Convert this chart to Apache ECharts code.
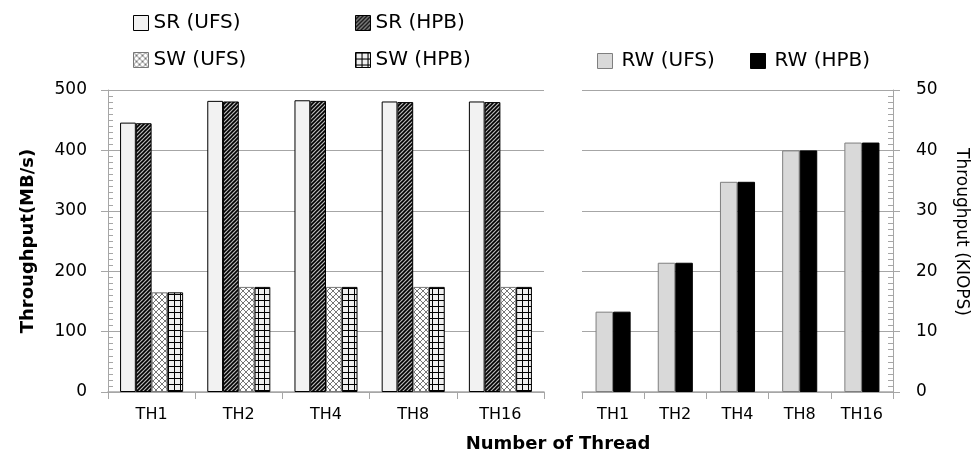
<!DOCTYPE html>
<html>
<head>
<meta charset="utf-8">
<script src="https://cdn.jsdelivr.net/npm/echarts@6/dist/echarts.min.js"></script>
<style>
  html, body { margin: 0; padding: 0; background: #fff; }
  #chart { width: 977px; height: 459px; }
</style>
</head>
<body>
<div id="chart"></div>
<script>
// 数据
const categories = ["TH1", "TH2", "TH4", "TH8", "TH16"];
const srUfs = [446, 482, 483, 481, 481];
const srHpb = [445, 481, 482, 480, 480];
const swUfs = [165, 174, 174, 174, 174];
const swHpb = [165, 174, 174, 174, 174];
const rwUfs = [13.3, 21.4, 34.8, 40.0, 41.3];
const rwHpb = [13.3, 21.4, 34.8, 40.0, 41.3];

const FONT = "DejaVu Sans";
const GREY = "#a6a6a6";

// 填充图案
function makePattern(size, draw) {
  const c = document.createElement("canvas");
  c.width = size;
  c.height = size;
  draw(c.getContext("2d"), size);
  return { image: c, repeat: "repeat" };
}

const hatchPat = makePattern(4, (ctx, s) => {
  ctx.fillStyle = "#b8b8b8";
  ctx.fillRect(0, 0, s, s);
  ctx.strokeStyle = "#000";
  ctx.lineWidth = 1.6;
  ctx.beginPath();
  ctx.moveTo(-1, s + 1); ctx.lineTo(s + 1, -1);
  ctx.moveTo(-1, 1); ctx.lineTo(1, -1);
  ctx.moveTo(s - 1, s + 1); ctx.lineTo(s + 1, s - 1);
  ctx.stroke();
});

const crossPat = makePattern(6, (ctx, s) => {
  ctx.fillStyle = "#fff";
  ctx.fillRect(0, 0, s, s);
  ctx.strokeStyle = "#777";
  ctx.lineWidth = 1;
  ctx.beginPath();
  ctx.moveTo(0, 0); ctx.lineTo(s, s);
  ctx.moveTo(0, s); ctx.lineTo(s, 0);
  ctx.stroke();
});

const gridPat = makePattern(6, (ctx, s) => {
  ctx.fillStyle = "#f0f0f0";
  ctx.fillRect(0, 0, s, s);
  ctx.fillStyle = "#000";
  ctx.fillRect(0, 0, s, 1);
  ctx.fillRect(0, 0, 1, s);
});

const myChart = echarts.init(document.getElementById("chart"));

// 单项图例
function legendAt(name, left, top, textPad) {
  return {
    data: [name],
    left: left,
    top: top,
    padding: 0,
    icon: "rect",
    itemWidth: 15,
    itemHeight: 15,
    itemGap: 0,
    selectedMode: false,
    itemStyle: { borderWidth: 1 },
    textStyle: {
      fontFamily: FONT,
      fontSize: 20,
      color: "#000",
      padding: [0, 0, 0, textPad || 0],
    },
  };
}

function yAxisMain(gridIndex, max, interval, position) {
  return {
    type: "value",
    gridIndex,
    position,
    min: 0,
    max,
    interval,
    axisLine: { show: true, lineStyle: { color: GREY } },
    axisTick: { show: true, length: 7, lineStyle: { color: GREY } },
    axisLabel: {
      fontFamily: FONT,
      fontSize: 17,
      color: "#000",
      margin: position === "left" ? 21 : 23,
    },
    splitLine: { show: true, lineStyle: { color: GREY } },
  };
}

// 次刻度（朝内）
function yAxisMinor(gridIndex, max, interval, position) {
  return {
    type: "value",
    gridIndex,
    position,
    min: 0,
    max,
    interval,
    axisLine: { show: false },
    axisTick: { show: false, inside: true },
    minorTick: { show: true, splitNumber: 10, length: 5, lineStyle: { color: GREY } },
    axisLabel: { show: false },
    splitLine: { show: false },
  };
}

function xAxisCat(gridIndex) {
  return {
    type: "category",
    gridIndex,
    data: categories,
    axisLine: { show: true, lineStyle: { color: GREY, width: 1.5 } },
    axisTick: { show: true, length: 7, lineStyle: { color: GREY } },
    axisLabel: { fontFamily: FONT, fontSize: 16, color: "#000", margin: 15 },
  };
}

myChart.setOption({
  animation: false,
  legend: [
    legendAt("SR (UFS)", 133, 13),
    legendAt("SR (HPB)", 355, 13),
    legendAt("SW (UFS)", 133, 50),
    legendAt("SW (HPB)", 355, 50),
    legendAt("RW (UFS)", 597, 51, 4),
    legendAt("RW (HPB)", 750, 51, 4),
  ],
  title: {
    text: "Number of Thread",
    left: 553,
    top: 430,
    textAlign: "center",
    textStyle: { fontFamily: FONT, fontSize: 18, fontWeight: "bold", color: "#000" },
  },
  graphic: [
    {
      type: "text",
      x: 28,
      y: 241,
      rotation: Math.PI / 2,
      style: {
        text: "Throughput(MB/s)",
        align: "center",
        verticalAlign: "middle",
        font: "bold 18px 'DejaVu Sans'",
        fill: "#000",
      },
    },
    {
      type: "text",
      x: 961,
      y: 232,
      rotation: -Math.PI / 2,
      style: {
        text: "Throughput (KIOPS)",
        align: "center",
        verticalAlign: "middle",
        font: "17px 'DejaVu Sans'",
        fill: "#000",
      },
    },
  ],
  grid: [
    { left: 108, right: 433, top: 90, bottom: 67 },
    { left: 582, right: 84, top: 90, bottom: 67 },
  ],
  xAxis: [xAxisCat(0), xAxisCat(1)],
  yAxis: [
    yAxisMain(0, 500, 100, "left"),
    yAxisMinor(0, 500, 100, "left"),
    yAxisMain(1, 50, 10, "right"),
    yAxisMinor(1, 50, 10, "right"),
  ],
  series: [
    {
      name: "SR (UFS)", type: "bar", xAxisIndex: 0, yAxisIndex: 0,
      data: srUfs, barGap: "0%", barCategoryGap: "27.7%",
      itemStyle: { color: "#f2f2f2", borderColor: "#000", borderWidth: 1 },
    },
    {
      name: "SR (HPB)", type: "bar", xAxisIndex: 0, yAxisIndex: 0,
      data: srHpb, barGap: "0%", barCategoryGap: "27.7%",
      itemStyle: { color: hatchPat, borderColor: "#000", borderWidth: 1 },
    },
    {
      name: "SW (UFS)", type: "bar", xAxisIndex: 0, yAxisIndex: 0,
      data: swUfs, barGap: "0%", barCategoryGap: "27.7%",
      itemStyle: { color: crossPat, borderColor: "#777", borderWidth: 1 },
    },
    {
      name: "SW (HPB)", type: "bar", xAxisIndex: 0, yAxisIndex: 0,
      data: swHpb, barGap: "0%", barCategoryGap: "27.7%",
      itemStyle: { color: gridPat, borderColor: "#000", borderWidth: 1 },
    },
    {
      name: "RW (UFS)", type: "bar", xAxisIndex: 1, yAxisIndex: 2,
      data: rwUfs, barGap: "0%", barCategoryGap: "43.6%",
      itemStyle: { color: "#d9d9d9", borderColor: "#7f7f7f", borderWidth: 1 },
    },
    {
      name: "RW (HPB)", type: "bar", xAxisIndex: 1, yAxisIndex: 2,
      data: rwHpb, barGap: "0%", barCategoryGap: "43.6%",
      itemStyle: { color: "#000", borderColor: "#000", borderWidth: 1 },
    },
  ],
});
</script>
</body>
</html>
